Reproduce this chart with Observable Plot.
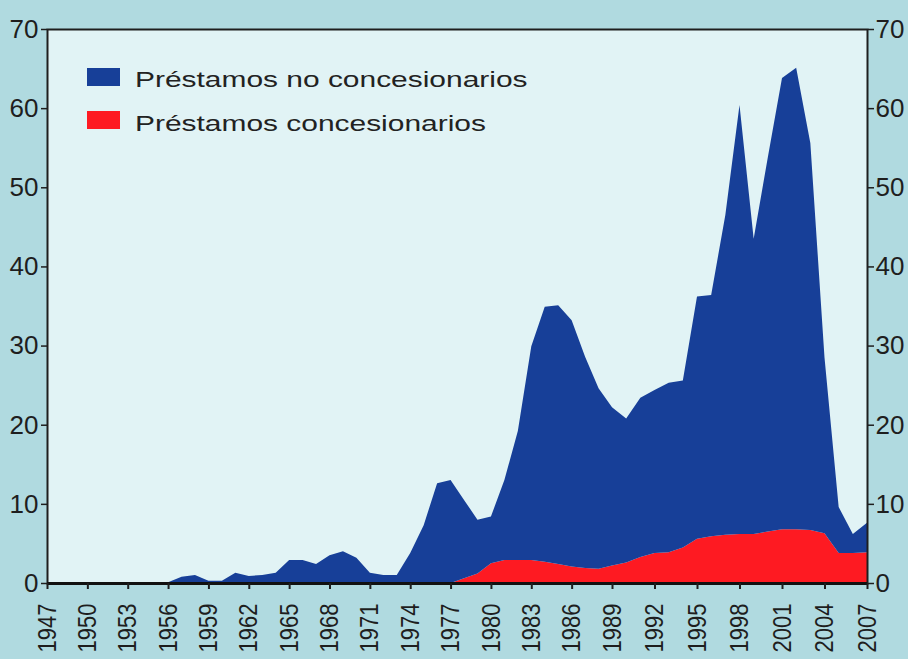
<!DOCTYPE html>
<html><head><meta charset="utf-8">
<script src="https://cdn.jsdelivr.net/npm/d3@7"></script>
<script src="https://cdn.jsdelivr.net/npm/@observablehq/plot@0.6"></script>
<style>
html,body{margin:0;padding:0;background:#b0dae0;}
#wrap{position:relative;width:908px;height:659px;overflow:hidden;font-family:"Liberation Sans",Arial,Helvetica,sans-serif;}
#wrap svg{display:block;}
.legend{position:absolute;left:87px;top:68px;}
.sw{position:absolute;left:0;width:33px;height:18px;}
.lab{position:absolute;left:48px;font-size:22px;line-height:22px;color:#222;white-space:nowrap;transform:scaleX(1.36);transform-origin:left center;}
</style></head><body><div id="wrap"></div>
<script>
// Years (fiscal)
const years = [1947,1948,1949,1950,1951,1952,1953,1954,1955,1956,1957,1958,1959,1960,1961,1962,1963,1964,1965,1966,1967,1968,1969,1970,1971,1972,1973,1974,1975,1976,1977,1978,1979,1980,1981,1982,1983,1984,1985,1986,1987,1988,1989,1990,1991,1992,1993,1994,1995,1996,1997,1998,1999,2000,2001,2002,2003,2004,2005,2006,2007];

// Préstamos concesionarios
const concesionarios = [0,0,0,0,0,0,0,0,0,0,0,0,0,0,0,0,0,0,0,0,0,0,0,0,0,0,0,0,0,0,0,0.6,1.2,2.5,2.9,2.9,2.9,2.7,2.4,2.1,1.9,1.8,2.2,2.6,3.3,3.8,3.9,4.5,5.6,5.9,6.1,6.2,6.2,6.5,6.8,6.8,6.7,6.3,3.8,3.8,3.9];

// Préstamos no concesionarios
const noConcesionarios = [0,0,0,0,0,0,0,0,0,0.1,0.8,1.0,0.3,0.3,1.3,0.9,1.0,1.3,2.9,2.9,2.4,3.5,4.0,3.2,1.3,1.0,1.0,3.8,7.3,12.6,13.0,9.9,6.8,5.9,10.1,16.3,27.0,32.2,32.7,31.1,26.7,22.8,20.0,18.2,20.1,20.6,21.4,21.1,30.6,30.5,40.4,54.2,37.3,47.3,57.0,58.3,48.9,22.2,5.8,2.4,3.7];

const seriesNames = ["Préstamos concesionarios", "Préstamos no concesionarios"];
const seriesColors = ["#fe1a22", "#173f98"];

const xTicks = [1947,1950,1953,1956,1959,1962,1965,1968,1971,1974,1977,1980,1983,1986,1989,1992,1995,1998,2001,2004,2007];
const yTicks = [0,10,20,30,40,50,60,70];

const rows = years.flatMap((yr, i) => [
  {year: yr, serie: seriesNames[0], value: concesionarios[i]},
  {year: yr, serie: seriesNames[1], value: noConcesionarios[i]}
]);

const chart = Plot.plot({
  width: 908, height: 659,
  marginLeft: 47, marginRight: 41, marginTop: 29, marginBottom: 76,
  style: {background: "transparent", fontFamily: "'Liberation Sans', Arial, Helvetica, sans-serif", color: "#1e1e1e"},
  x: {type: "linear", domain: [1947, 1989, 2007], range: [47, 612, 867], label: null},
  y: {type: "linear", domain: [0, 70], label: null},
  color: {domain: seriesNames, range: seriesColors},
  marks: [
    Plot.frame({fill: "#e1f3f5", stroke: null}),
    Plot.areaY(rows, {x: "year", y: "value", fill: "serie", z: "serie"}),
    Plot.frame({stroke: "#1e1e1e", strokeWidth: 2}),
    Plot.ruleY([0], {stroke: "#111", strokeWidth: 3}),
    Plot.axisY(yTicks, {anchor: "left", label: null, tickSize: 6, tickPadding: 3, fontSize: 26, stroke: "#1e1e1e", strokeWidth: 1.5, tickFormat: d => String(d)}),
    Plot.axisY(yTicks, {anchor: "right", label: null, tickSize: 6, tickPadding: 2, fontSize: 26, stroke: "#1e1e1e", strokeWidth: 1.5, tickFormat: d => String(d)}),
    Plot.axisX(xTicks, {anchor: "bottom", label: null, tickSize: 6, tickPadding: 14, tickRotate: -90, fontSize: 22, stroke: "#1e1e1e", strokeWidth: 2, tickFormat: d => String(d)})
  ]
});

// widen the rotated year labels slightly, as in the reference
chart.querySelectorAll('g[aria-label="x-axis tick label"] text').forEach(t => {
  const tr = t.getAttribute("transform") || "";
  t.setAttribute("transform", tr + " scale(1,1.15)");
});

const wrap = document.getElementById("wrap");
wrap.appendChild(chart);

const legend = document.createElement("div");
legend.className = "legend";
const legendItems = [seriesNames[1], seriesNames[0]];
const legendColors = [seriesColors[1], seriesColors[0]];
legendItems.forEach((name, i) => {
  const sw = document.createElement("div");
  sw.className = "sw";
  sw.style.top = (i * 43) + "px";
  sw.style.background = legendColors[i];
  const lab = document.createElement("div");
  lab.className = "lab";
  lab.style.top = (i * 44.4 + 0.7) + "px";
  lab.textContent = name;
  legend.appendChild(sw);
  legend.appendChild(lab);
});
wrap.appendChild(legend);
</script></body></html>
